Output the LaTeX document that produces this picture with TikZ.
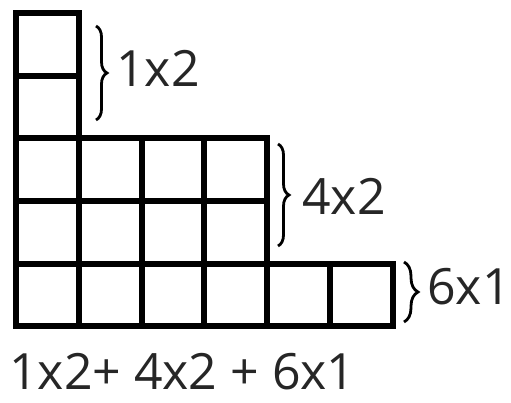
\documentclass[tikz,border=0pt]{standalone}
\usepackage{fontspec}
\setmainfont{Open Sans}
\usetikzlibrary{decorations.pathreplacing}
\begin{document}
\begin{tikzpicture}[x=1pt,y=1pt,
  gridline/.style={line width=6pt, line join=miter, line cap=rect},
  bracestyle/.style={line width=2.8pt, decorate, decoration={brace, amplitude=#1}},
  lbl/.style={anchor=base west, inner sep=0pt, font=\fontsize{50}{58}\selectfont, text=black!85}
]
\useasboundingbox (0,0) rectangle (511,403);
% y_tikz = 403 - y_px
% top column 1x2
\draw[gridline] (16,403-13) rectangle (78.7,403-138.5);
\draw[gridline] (16,403-75.7) -- (78.7,403-75.7);
% middle 4x2
\draw[gridline] (16,403-138.5) rectangle (267,403-263.7);
\draw[gridline] (16,403-201) -- (267,403-201);
\foreach \x in {78.7,141.5,204.2} \draw[gridline] (\x,403-138.5) -- (\x,403-263.7);
% bottom 6x1
\draw[gridline] (16,403-263.7) rectangle (392.5,403-325.7);
\foreach \x in {78.7,141.5,204.2,267,329.8} \draw[gridline] (\x,403-263.7) -- (\x,403-325.7);
% braces
\coordinate (b1t) at (96,403-26);
\coordinate (b1b) at (96,403-120);
\coordinate (b2t) at (278,403-144);
\coordinate (b2b) at (278,403-246);
\coordinate (b3t) at (404,403-262);
\coordinate (b3b) at (404,403-322);
\draw[bracestyle=11pt] (b1t) -- (b1b);
\draw[bracestyle=11pt] (b2t) -- (b2b);
\draw[bracestyle=14pt] (b3t) -- (b3b);
% labels
\node[lbl] (l1) at (116,403-87) {1x2};
\node[lbl] (l2) at (302,403-215) {4x2};
\node[lbl] (l3) at (427,403-305) {6x1};
\node[lbl] (sum) at (9,13) {1x2+ 4x2 + 6x1};
\end{tikzpicture}
\end{document}
